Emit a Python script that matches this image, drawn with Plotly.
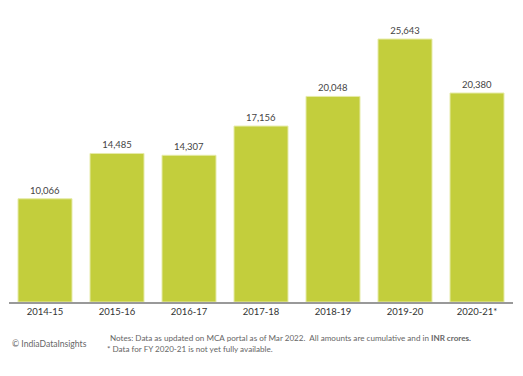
import plotly.graph_objects as go

years = ["2014-15", "2015-16", "2016-17", "2017-18", "2018-19", "2019-20", "2020-21*"]
values = [10066, 14485, 14307, 17156, 20048, 25643, 20380]

fig = go.Figure()
fig.add_trace(go.Bar(
    x=years, y=values,
    marker=dict(color="#C3CE3C", line=dict(color="#E6EBA8", width=1)),
    text=[f"{v:,}" for v in values], textposition="outside",
    textfont=dict(size=9.5, color="#444444", family="Lato"),
    cliponaxis=False, width=0.75,
))
fig.update_layout(
    width=523, height=376,
    margin=dict(l=1, r=18, t=12, b=82),
    plot_bgcolor="white", paper_bgcolor="white",
    showlegend=False,
    font=dict(family="Lato", color="#333333"),
)
fig.update_xaxes(showline=True, linecolor="#999999", linewidth=1.5, ticks="",
                 tickfont=dict(size=9.5, color="#333333"), showgrid=False)
fig.update_yaxes(visible=False, range=[0, 27500])

fig.add_annotation(text="© IndiaDataInsights", xref="paper", yref="paper",
                   x=0.002, y=-0.149, xanchor="left", yanchor="middle", showarrow=False,
                   font=dict(size=8.6, color="#666666"))
fig.add_annotation(text="Notes: Data as updated on MCA portal as of Mar 2022.  All amounts are cumulative and in <b>INR crores.</b>",
                   xref="paper", yref="paper", x=0.196, y=-0.128, xanchor="left", yanchor="middle",
                   showarrow=False, font=dict(size=8.1, color="#666666"))
fig.add_annotation(text="* Data for FY 2020-21 is not yet fully available.",
                   xref="paper", yref="paper", x=0.19, y=-0.166, xanchor="left", yanchor="middle",
                   showarrow=False, font=dict(size=8.1, color="#666666"))

fig.write_html("out.html")
